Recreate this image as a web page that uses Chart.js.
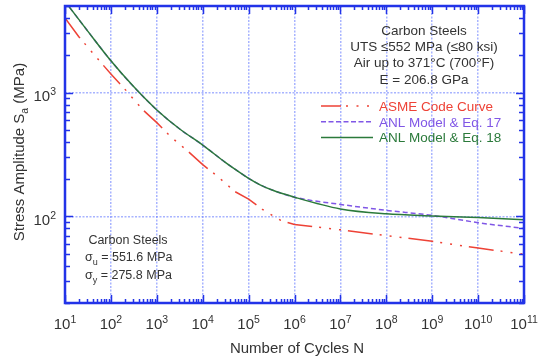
<!doctype html>
<html><head>
<meta charset="utf-8">
<title>Carbon Steels fatigue curves</title>
<script src="https://cdn.jsdelivr.net/npm/chart.js"></script>
<style>
  body { margin: 0; background: #fff; }
  canvas { display: block; }
</style>
</head>
<body>
<canvas id="myChart" width="539" height="362"></canvas>
<script>
// --- data ---
const asmeN = [10, 20, 50, 100, 200, 500, 1e3, 2e3, 5e3, 1e4, 2e4, 5e4, 1e5, 2e5, 5e5, 1e6, 1e7, 1e8, 1e9, 1e10, 1e11];
const asmeS = [3999, 2827, 1896, 1413, 1069, 724, 572, 441, 331, 262, 214, 159, 138, 114, 93, 86, 78, 70, 63, 55.5, 49.5];

const eq18N = [10, 31.6, 100, 316, 1e3, 3160, 1e4, 31600, 56200, 1e5, 178000, 316000, 1e6, 1e7, 1e8, 1e9, 1e10, 1e11];
const eq18S = [5450, 3120, 1806, 1112, 724, 508, 377, 272, 234, 203, 180, 164, 143, 115, 105, 101, 98, 94];

const eq17N = [10, 31.6, 100, 316, 1e3, 3160, 1e4, 31600, 56200, 1e5, 178000, 316000, 1e6, 1e7, 1e8, 1e9, 1e10, 1e11];
const eq17S = [5450, 3120, 1806, 1112, 724, 508, 377, 272, 234, 203, 180, 164, 143, 125, 112, 102, 89, 80];

const xDecades = [1, 2, 3, 4, 5, 6, 7, 8, 9, 10, 11];   // exponents of 10
const yDecades = [2, 3];

const FONT = '"Liberation Sans", Arial, sans-serif';
const TXT = '#333';
const RED = '#ee4236';
const PURPLE = '#8057e6';
const GREEN = '#2b7a3b';
const BLUE = '#2233e8';

function pts(xs, ys) { return xs.map((v, i) => ({x: v, y: ys[i]})); }

// text with sub/superscript parts: [[text, size, dy], ...]
function partsWidth(ctx, parts) {
  let w = 0;
  parts.forEach(p => { ctx.font = p[1] + 'px ' + FONT; w += ctx.measureText(p[0]).width; });
  return w;
}
function drawParts(ctx, parts, x, y) {
  parts.forEach(p => {
    ctx.font = p[1] + 'px ' + FONT;
    ctx.fillText(p[0], x, y + p[2]);
    x += ctx.measureText(p[0]).width;
  });
}

const decor = {
  id: 'decor',
  afterDraw(chart) {
    const {ctx, chartArea: a, scales: {x, y}} = chart;
    ctx.save();

    // minor / major ticks inside the frame
    ctx.strokeStyle = BLUE;
    ctx.lineWidth = 1.5;
    ctx.beginPath();
    for (let d = 1; d <= 11; d++) {
      for (let k = 1; k <= 9; k++) {
        const v = k * Math.pow(10, d);
        if (v > 1e11) break;
        const px = Math.round(x.getPixelForValue(v)) + 0.5;
        const len = k === 1 ? 8 : 4;
        ctx.moveTo(px, a.bottom); ctx.lineTo(px, a.bottom - len);
        ctx.moveTo(px, a.top); ctx.lineTo(px, a.top + len);
      }
    }
    for (let d = 1; d <= 3; d++) {
      for (let k = 1; k <= 9; k++) {
        const v = k * Math.pow(10, d);
        if (v < 20 || v > 5000) continue;
        const py = Math.round(y.getPixelForValue(v)) + 0.5;
        const len = k === 1 ? 8 : 5;
        ctx.moveTo(a.left, py); ctx.lineTo(a.left + len, py);
        ctx.moveTo(a.right, py); ctx.lineTo(a.right - len, py);
      }
    }
    ctx.stroke();

    // frame
    ctx.lineWidth = 2.5;
    ctx.strokeRect(a.left, a.top, a.right - a.left, a.bottom - a.top);

    // tick labels 10^n
    ctx.fillStyle = TXT;
    ctx.textAlign = 'left';
    ctx.textBaseline = 'alphabetic';
    xDecades.forEach(e => {
      const parts = [['10', 15, 0], [String(e), 10.5, -6]];
      const w = partsWidth(ctx, parts);
      const px = x.getPixelForValue(Math.pow(10, e));
      drawParts(ctx, parts, px - w / 2, 329);
    });
    yDecades.forEach(e => {
      const parts = [['10', 15, 0], [String(e), 10.5, -6]];
      const w = partsWidth(ctx, parts);
      const py = y.getPixelForValue(Math.pow(10, e));
      drawParts(ctx, parts, 56 - w, py + 8.5);
    });

    // axis titles
    ctx.font = '15px ' + FONT;
    ctx.textAlign = 'center';
    ctx.fillText('Number of Cycles N', 297, 353);
    ctx.textAlign = 'left';
    const yt = [['Stress Amplitude S', 15, 0], ['a', 10.5, 4], [' (MPa)', 15, 0]];
    const yw = partsWidth(ctx, yt);
    ctx.translate(23.5, 152);
    ctx.rotate(-Math.PI / 2);
    drawParts(ctx, yt, -yw / 2, 0);
    ctx.setTransform(1, 0, 0, 1, 0, 0);

    // top-right note
    ctx.font = '13.5px ' + FONT;
    ctx.textAlign = 'center';
    ['Carbon Steels', 'UTS \u2264552 MPa (\u226480 ksi)', 'Air up to 371\u00b0C (700\u00b0F)', 'E = 206.8 GPa']
      .forEach((s, i) => ctx.fillText(s, 424, 35 + i * 16.2));

    // legend
    const leg = [
      ['ASME Code Curve', RED, [20, 5, 2, 8.5, 2, 8.5, 2, 8.5]],
      ['ANL Model & Eq. 17', PURPLE, [5, 2.5]],
      ['ANL Model & Eq. 18', GREEN, []]
    ];
    leg.forEach((l, i) => {
      const ly = 106 + i * 15.7;
      ctx.strokeStyle = l[1];
      ctx.lineWidth = 1.5;
      ctx.setLineDash(l[2]);
      ctx.beginPath();
      ctx.moveTo(321, ly); ctx.lineTo(373, ly);
      ctx.stroke();
      ctx.setLineDash([]);
      ctx.fillStyle = l[1];
      ctx.textAlign = 'left';
      ctx.font = '13.5px ' + FONT;
      ctx.fillText(l[0], 379, ly + 4.8);
    });

    // bottom-left note
    ctx.fillStyle = TXT;
    ctx.font = '12.5px ' + FONT;
    ctx.textAlign = 'center';
    ctx.fillText('Carbon Steels', 128, 244);
    ctx.textAlign = 'left';
    drawParts(ctx, [['\u03c3', 12.5, 0], ['u', 9, 3.5], [' = 551.6 MPa', 12.5, 0]], 85, 261);
    drawParts(ctx, [['\u03c3', 12.5, 0], ['y', 9, 3.5], [' = 275.8 MPa', 12.5, 0]], 85, 279);

    ctx.restore();
  }
};

const gridStyle = {
  drawTicks: false,
  color: 'rgba(110,130,255,0.6)',
  lineWidth: 1.5
};

new Chart(document.getElementById('myChart'), {
  type: 'line',
  data: {
    datasets: [
      { label: 'ANL Model & Eq. 18', data: pts(eq18N, eq18S), borderColor: GREEN, borderWidth: 1.5,
        cubicInterpolationMode: 'monotone', order: 0 },
      { label: 'ANL Model & Eq. 17', data: pts(eq17N, eq17S), borderColor: PURPLE, borderWidth: 1.5,
        borderDash: [5, 3], cubicInterpolationMode: 'monotone', order: 1 },
      { label: 'ASME Code Curve', data: pts(asmeN, asmeS), borderColor: RED, borderWidth: 1.5,
        borderDash: [25, 7, 2, 8, 2, 8, 2, 7], tension: 0, order: 2 }
    ]
  },
  options: {
    responsive: false,
    animation: false,
    devicePixelRatio: 1,
    layout: { padding: { left: 65, right: 15, top: 6, bottom: 59 } },
    elements: { point: { radius: 0 } },
    plugins: { legend: { display: false }, tooltip: { enabled: false } },
    scales: {
      x: {
        type: 'logarithmic', min: 10, max: 1e11,
        ticks: { display: false },
        grid: gridStyle,
        border: { display: false, dash: [2, 1.5] },
        afterBuildTicks: s => { s.ticks = xDecades.map(e => ({value: Math.pow(10, e)})); },
        afterFit: s => { s.height = 0; }
      },
      y: {
        type: 'logarithmic', min: 20, max: 5000,
        ticks: { display: false },
        grid: gridStyle,
        border: { display: false, dash: [2, 1.5] },
        afterBuildTicks: s => { s.ticks = yDecades.map(e => ({value: Math.pow(10, e)})); },
        afterFit: s => { s.width = 0; }
      }
    }
  },
  plugins: [decor]
});
</script>
</body></html>
